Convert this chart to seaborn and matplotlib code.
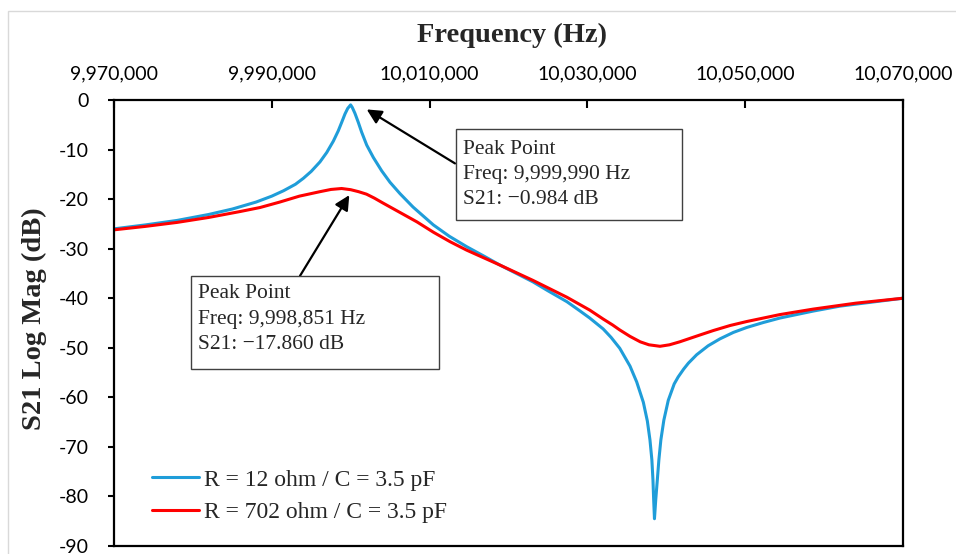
import numpy as np
import pandas as pd
import matplotlib
matplotlib.use('Agg')
import matplotlib.pyplot as plt
import matplotlib.ticker as mticker
from matplotlib.patches import Rectangle
import seaborn as sns

# S21 magnitude (offset in kHz from 9,970,000 Hz, dB)
f0 = 9970000
blue_khz = [0, 4, 8, 12, 15, 18, 20, 21.5, 23, 24, 25, 26.1, 26.96, 27.8, 28.43, 28.86,
            29.28, 29.62, 29.99, 30.2, 30.54, 30.96, 31.39, 32.03, 32.87, 33.93, 34.98,
            36.25, 37.9, 40.47, 42.5, 44.7, 47.0, 48.9, 51.0, 53.1, 55.0, 57.4, 59.0, 60.3,
            62.0, 63.0, 64.1, 65.4, 66.25, 67.09, 67.6, 67.93, 68.17, 68.31, 68.40, 68.50,
            68.66, 68.86, 69.06, 69.31, 69.69, 70.25, 71.0, 71.5, 72.2, 72.8, 73.85, 75.3,
            76.8, 78.5, 80.2, 82.3, 84.4, 88.6, 92, 96, 100]
blue_db = [-26.0, -25.2, -24.3, -23.1, -22.0, -20.6, -19.4, -18.3, -17.0, -15.8, -14.4,
           -12.5, -10.6, -8.3, -6.2, -4.5, -2.8, -1.7, -0.984, -1.5, -2.7, -4.5, -6.5, -9.1,
           -11.6, -14.3, -16.6, -18.9, -21.6, -25.2, -27.5, -29.6, -31.6, -33.3, -35.0,
           -36.7, -38.5, -40.7, -42.5, -44.0, -46.2, -47.9, -50.1, -53.7, -56.9, -61.0,
           -64.8, -68.6, -72.6, -76.7, -80.7, -84.5, -80.7, -76.7, -72.6, -68.6, -64.6,
           -60.6, -57.3, -55.9, -54.3, -53.1, -51.4, -49.6, -48.2, -46.9, -45.9, -44.9,
           -44.0, -42.6, -41.6, -40.8, -40.0]

red_khz = [0, 4, 8, 12, 16, 18.5, 21, 23.5, 26.1, 27.5, 28.85, 30.0, 31.0, 32.0, 33.0, 34.1,
           36.25, 38.4, 40.5, 42.6, 44.7, 48.9, 53.1, 57.4, 60.3, 62.0, 63.2, 64.1, 65.4,
           66.7, 67.8, 69.2, 70.4, 71.7, 73.0, 74.3, 76.0, 78.1, 80.2, 82.3, 84.4, 88.6,
           94, 100]
red_db = [-26.2, -25.5, -24.7, -23.7, -22.5, -21.7, -20.6, -19.4, -18.5, -18.05, -17.86,
          -18.1, -18.5, -19.0, -19.8, -20.8, -22.7, -24.6, -26.7, -28.6, -30.3, -33.3, -36.4,
          -39.8, -42.4, -44.2, -45.4, -46.4, -47.7, -48.8, -49.4, -49.7, -49.4, -48.8, -48.1,
          -47.4, -46.5, -45.5, -44.7, -44.0, -43.3, -42.2, -41.0, -40.0]

labels = ['R = 12 ohm / C = 3.5 pF', 'R = 702 ohm / C = 3.5 pF']
colors = ['#1F9DD9', '#FF0000']
x_ticks = [9970000, 9990000, 10010000, 10030000, 10050000, 10070000]
y_ticks = [0, -10, -20, -30, -40, -50, -60, -70, -80, -90]

df_blue = pd.DataFrame({'freq': [f0 + k * 1000 for k in blue_khz], 's21': blue_db})
df_red = pd.DataFrame({'freq': [f0 + k * 1000 for k in red_khz], 's21': red_db})

sns.set_style('ticks')
plt.rcParams['font.family'] = ['Lato', 'DejaVu Sans']
plt.rcParams['axes.unicode_minus'] = False
serif = ['Liberation Serif', 'DejaVu Serif']

fig = plt.figure(figsize=(9.56, 5.54), dpi=100)
ax = fig.add_axes([114/956, 1 - 546/554, 789/956, 446/554])

sns.lineplot(data=df_blue, x='freq', y='s21', ax=ax, color=colors[0], lw=2.2,
             label=labels[0], estimator=None, sort=False)
sns.lineplot(data=df_red, x='freq', y='s21', ax=ax, color=colors[1], lw=2.2,
             label=labels[1], estimator=None, sort=False)

ax.set_xlim(x_ticks[0], x_ticks[-1])
ax.set_ylim(-90, 0)
ax.set_xticks(x_ticks)
ax.set_yticks(y_ticks)
ax.xaxis.set_major_formatter(mticker.FuncFormatter(lambda v, p: f'{v:,.0f}'))
ax.xaxis.tick_top()
ax.tick_params(axis='x', direction='in', length=6, width=1.5, pad=12.4, labelsize=14,
               colors='black')
ax.tick_params(axis='y', direction='out', length=4, width=1.5, pad=14, labelsize=14,
               colors='black')
for s in ax.spines.values():
    s.set_color('black')
    s.set_linewidth(1.6)

ax.set_xlabel('Frequency (Hz)', fontsize=20.5, fontweight='bold', family=serif)
ax.xaxis.set_label_position('top')
ax.xaxis.set_label_coords(0.505, 1.13)
ax.set_ylabel('S21 Log Mag (dB)', fontsize=20.5, fontweight='bold', family=serif)
ax.yaxis.set_label_coords(-0.085, 0.51)

leg = ax.legend(loc='lower left', bbox_to_anchor=(0.048, 0.052), frameon=False,
                prop={'family': serif, 'size': 17}, handlelength=2.0,
                handletextpad=0.22, borderpad=0, borderaxespad=0, labelspacing=0.45)

# annotation boxes
box_kw = dict(fill=False, edgecolor='#404040', lw=1.0, transform=ax.transData, zorder=5)
ax.add_patch(Rectangle((10013320, -24.2), 28640, 18.35, **box_kw))
ax.add_patch(Rectangle((9979720, -54.3), 31510, 18.8, **box_kw))
ax.text(10014260, -15.0, 'Peak Point\nFreq: 9,999,990 Hz\nS21: \u22120.984 dB',
        family=serif, fontsize=15.5, va='center', ha='left', linespacing=1.45)
ax.text(9980650, -44.2, 'Peak Point\nFreq: 9,998,851 Hz\nS21: \u221217.860 dB',
        family=serif, fontsize=15.5, va='center', ha='left', linespacing=1.45)

arrow_kw = dict(arrowstyle='-|>', color='black', lw=1.6, mutation_scale=22,
                shrinkA=0, shrinkB=0)
ax.annotate('', xy=(10002030, -1.9), xytext=(10013220, -12.8), arrowprops=arrow_kw)
ax.annotate('', xy=(9999820, -19.2), xytext=(9993570, -35.5), arrowprops=arrow_kw)

# light chart-area border
fig.patches.append(Rectangle((8/956, -0.1), 1.1, 1.1 - 11/554, fill=False,
                             edgecolor='#D9D9D9', lw=1.0, transform=fig.transFigure))

fig.savefig('out.png', dpi=100)
